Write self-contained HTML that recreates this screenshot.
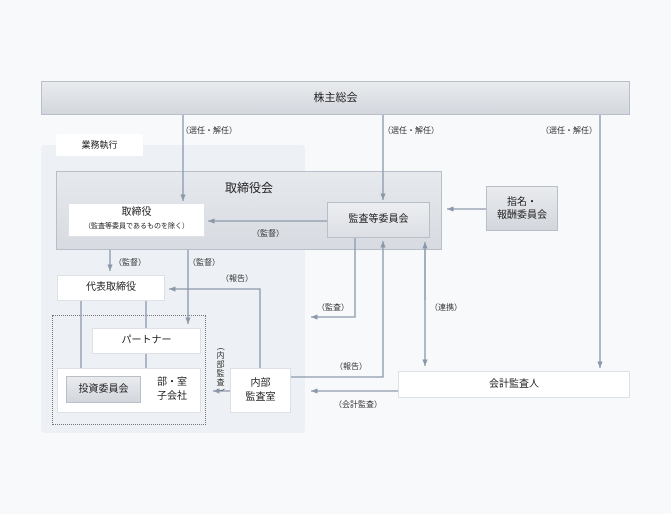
<!DOCTYPE html><html><head><meta charset="utf-8"><style>
body{margin:0;width:671px;height:514px;background:#f8f9fb;position:relative;overflow:hidden;font-family:"Liberation Sans","Noto Sans CJK JP",sans-serif;color:#222}
.b{position:absolute;box-sizing:border-box;display:flex;align-items:center;justify-content:center;text-align:center;font-size:10px;line-height:14px}
.w{background:#fff;border:1px solid #dde1e7}
.g{background:linear-gradient(#e9ebee,#d3d7dd);border:1px solid #b9bfc8}
.t{position:absolute;font-size:8px;white-space:nowrap;color:#333}
.v{position:absolute;left:216px;font-size:8px;line-height:8px;width:9px;text-align:center;color:#333}
svg{position:absolute;left:0;top:0}
</style></head><body>
<div class="b g" style="left:41px;top:81px;width:589px;height:34px;font-size:11px">株主総会</div>
<div class="b" style="left:41px;top:145px;width:264px;height:288px;background:#edf0f4;border-radius:4px"></div>
<div class="b w" style="left:56px;top:134px;width:87px;height:22px;border:none;border-radius:2px;font-size:9px">業務執行</div>
<div class="b g" style="left:56px;top:171px;width:386px;height:79px;background:linear-gradient(#e6e9ed,#d7dbe1);align-items:flex-start;padding-top:9px;font-size:12px">取締役会</div>
<div class="b w" style="left:68px;top:203px;width:137px;height:34px;flex-direction:column;font-size:10px">取締役<span style="font-size:7px">（監査等委員であるものを除く）</span></div>
<div class="b g" style="left:327px;top:202px;width:103px;height:36px;background:linear-gradient(#eceef1,#dcdfe4)">監査等委員会</div>
<div class="b g" style="left:486px;top:186px;width:72px;height:45px;line-height:13px">指名・<br>報酬委員会</div>
<div class="b w" style="left:57px;top:275px;width:108px;height:26px">代表取締役</div>
<div class="b" style="left:52px;top:315px;width:154px;height:110px;border:1px dotted #777"></div>
<div class="b w" style="left:92px;top:328px;width:109px;height:26px">パートナー</div>
<div class="b w" style="left:57px;top:368px;width:144px;height:45px"></div>
<div class="b g" style="left:66px;top:376px;width:75px;height:27px">投資委員会</div>
<div class="b" style="left:150px;top:374px;width:44px;height:32px;line-height:14px">部・室<br>子会社</div>
<div class="b w" style="left:230px;top:368px;width:61px;height:45px;line-height:14px">内部<br>監査室</div>
<div class="b w" style="left:398px;top:371px;width:232px;height:27px">会計監査人</div>
<div class="t" style="left:181px;top:125px">（選任・解任）</div>
<div class="t" style="left:383px;top:125px">（選任・解任）</div>
<div class="t" style="left:541px;top:125px">（選任・解任）</div>
<div class="t" style="left:252px;top:228px">（監督）</div>
<div class="t" style="left:114px;top:257px">（監督）</div>
<div class="t" style="left:188px;top:257px">（監督）</div>
<div class="t" style="left:221px;top:273px">（報告）</div>
<div class="t" style="left:317px;top:302px">（監査）</div>
<div class="t" style="left:430px;top:302px">（連携）</div>
<div class="t" style="left:335px;top:361px">（報告）</div>
<div class="t" style="left:334px;top:399px">（会計監査）</div>
<div class="v" style="top:345px;transform:rotate(90deg)">(</div>
<div class="v" style="top:352px">内</div>
<div class="v" style="top:361px">部</div>
<div class="v" style="top:370px">監</div>
<div class="v" style="top:379px">査</div>
<div class="v" style="top:386px;transform:rotate(90deg)">)</div>
<svg width="671" height="514"><defs><marker id="a" markerWidth="6" markerHeight="6" refX="5" refY="3" orient="auto"><path d="M0,1 L5,3 L0,5z" fill="#8a98aa"/></marker></defs>
<g stroke="#8a98aa" stroke-width="1.3" fill="none">
<path d="M183 115V201" marker-end="url(#a)"/>
<path d="M383 115V200" marker-end="url(#a)"/>
<path d="M600 115V368" marker-end="url(#a)"/>
<path d="M327 221H208" marker-end="url(#a)"/>
<path d="M486 209H447" marker-end="url(#a)"/>
<path d="M110 250V271" marker-end="url(#a)"/>
<path d="M188 250V324" marker-end="url(#a)"/>
<path d="M260 368V289H169" marker-end="url(#a)"/>
<path d="M81 301V368M146 301V328M146 354V368"/>
<path d="M230 391H213" marker-end="url(#a)"/>
<path d="M355 238V317H311" marker-end="url(#a)"/>
<path d="M291 377H383V241" marker-end="url(#a)"/>
<path d="M425 250V366" marker-end="url(#a)"/>
<path d="M425 300V242" marker-end="url(#a)"/>
<path d="M398 391H311" marker-end="url(#a)"/>
</g></svg>
</body></html>
